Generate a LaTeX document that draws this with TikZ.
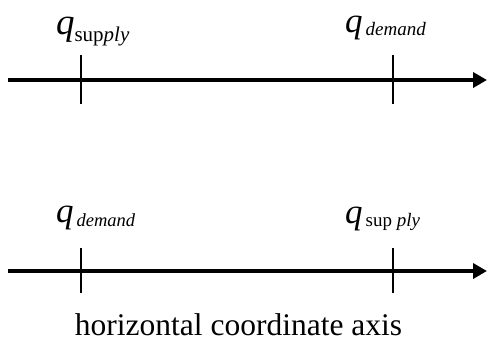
\documentclass[tikz,border=0pt]{standalone}
\usepackage{fontspec}
\setmainfont{Liberation Serif}
\usetikzlibrary{arrows.meta}
\begin{document}
\begin{tikzpicture}[x=1pt,y=-1pt,
  axisline/.style={line width=3.6pt,-{Triangle[length=14pt,width=15pt]}},
  tickline/.style={line width=1.6pt},
  lbl/.style={anchor=base west,inner sep=0pt,outer sep=0pt}]
\useasboundingbox (0,0) rectangle (487,341);
% top axis
\coordinate (a1s) at (8,80);
\coordinate (a1e) at (487,80);
\draw[axisline] (a1s) -- (a1e);
\coordinate (t1t) at (81,55); \coordinate (t1b) at (81,104);
\coordinate (t2t) at (393,55); \coordinate (t2b) at (393,104);
\draw[tickline] (t1t) -- (t1b);
\draw[tickline] (t2t) -- (t2b);
\node[lbl] (l1) at (56,34) {\fontsize{37}{37}\selectfont\itshape q\normalfont\fontsize{21}{21}\selectfont\raisebox{-7pt}{sup\itshape ply}};
\node[lbl] (l2) at (345,32) {\fontsize{35}{35}\selectfont\itshape q\fontsize{19}{19}\selectfont\raisebox{-3pt}{\,demand}};
% bottom axis
\coordinate (b1s) at (8,271);
\coordinate (b1e) at (487,271);
\draw[axisline] (b1s) -- (b1e);
\coordinate (u1t) at (81,248); \coordinate (u1b) at (81,293);
\coordinate (u2t) at (393,248); \coordinate (u2b) at (393,293);
\draw[tickline] (u1t) -- (u1b);
\draw[tickline] (u2t) -- (u2b);
\node[lbl] (l3) at (56,222) {\fontsize{35}{35}\selectfont\itshape q\fontsize{18.5}{18.5}\selectfont\raisebox{-4pt}{\,demand}};
\node[lbl] (l4) at (345,223) {\fontsize{35}{35}\selectfont\itshape q\normalfont\fontsize{19}{19}\selectfont\raisebox{-3pt}{\,sup \itshape ply}};
\node[anchor=base,inner sep=0pt] (cap) at (238.5,335) {\fontsize{31.5}{31.5}\selectfont horizontal coordinate axis};
\end{tikzpicture}
\end{document}
